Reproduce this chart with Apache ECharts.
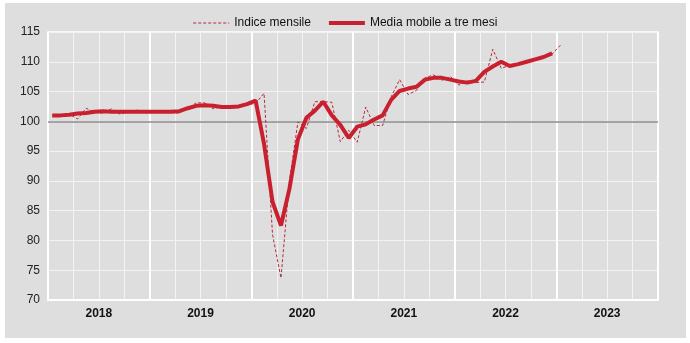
<!DOCTYPE html>
<html>
<head>
<meta charset="utf-8">
<script src="https://cdn.jsdelivr.net/npm/echarts@6/dist/echarts.min.js"></script>
<style>
  html, body { margin: 0; padding: 0; background: #ffffff; }
  #bg { position: absolute; left: 5px; top: 3px; width: 681px; height: 335px; background: #dedede; }
  #chart { position: absolute; left: 0; top: 0; width: 690px; height: 343px; }
</style>
</head>
<body>
<div id="bg"></div>
<div id="chart"></div>
<script>
// ---- data ----
const years = ['2018', '2019', '2020', '2021', '2022', '2023'];
const monthNames = ['01','02','03','04','05','06','07','08','09','10','11','12'];
const yTicks = { min: 70, max: 115, step: 5 };
const refLine = 100;

// Indice mensile, Jan 2018 - Jan 2023
const indiceMensile = [
  101.0, 101.0, 101.2, 100.4, 102.2, 101.5, 101.4, 102.1, 101.2, 101.6, 101.9, 101.4,
  101.6, 101.7, 101.5, 101.4, 102.2, 103.1, 103.1, 102.1, 102.5, 102.4, 102.3, 102.8,
  103.0, 104.7, 81.0, 73.7, 90.0, 99.9, 98.8, 103.3, 103.3, 103.2, 96.6, 98.5,
  96.5, 102.4, 99.3, 99.3, 104.1, 107.0, 104.5, 105.2, 107.3, 107.8, 106.9, 107.5,
  106.1, 106.8, 106.5, 106.6, 112.1, 108.9, 109.4, 109.6, 110.0, 110.5, 110.8, 111.3,
  112.8
];

// Media mobile a tre mesi, Jan 2018 - Dec 2022
const mediaMobile = [
  101.0, 101.0, 101.1, 101.3, 101.4, 101.6, 101.7, 101.6, 101.6, 101.6, 101.6, 101.6,
  101.6, 101.6, 101.6, 101.7, 102.2, 102.6, 102.7, 102.6, 102.4, 102.4, 102.5, 102.9,
  103.5, 96.2, 86.5, 82.5, 88.7, 97.0, 100.6, 101.8, 103.3, 101.0, 99.4, 97.2,
  99.1, 99.5, 100.3, 101.0, 103.6, 105.1, 105.5, 105.8, 107.0, 107.3, 107.3, 107.0,
  106.7, 106.5, 106.8, 108.3, 109.2, 110.0, 109.3, 109.6, 110.0, 110.4, 110.8, 111.4
];

const months = [];
years.forEach(y => monthNames.forEach(m => months.push(y + '-' + m)));

const FONT = "'Liberation Sans Narrow', 'Arial Narrow', 'Liberation Sans', Arial, sans-serif";

const chart = echarts.init(document.getElementById('chart'), null, { renderer: 'canvas' });
chart.setOption({
  backgroundColor: 'transparent',
  animation: false,
  textStyle: { fontFamily: FONT },
  legend: {
    top: 12,
    left: 'center',
    itemWidth: 36,
    itemHeight: 12,
    itemGap: 16,
    textStyle: { fontFamily: FONT, fontSize: 12, color: '#111' },
    data: [
      { name: 'Indice mensile', itemStyle: { opacity: 0 }, lineStyle: { width: 1, type: [3, 2], color: '#b42a3c' } },
      { name: 'Media mobile a tre mesi', itemStyle: { opacity: 0 }, lineStyle: { width: 4, color: '#c8202f' } }
    ]
  },
  grid: {
    left: 48, right: 32, top: 32, bottom: 43,
    show: true, borderColor: '#ffffff', borderWidth: 1.5, backgroundColor: 'transparent'
  },
  xAxis: [
    {
      type: 'category', position: 'bottom', data: months, boundaryGap: true,
      axisLabel: { show: false }, axisTick: { show: false }, axisLine: { show: false },
      splitLine: { show: true, interval: 2, lineStyle: { color: '#f3f3f3', width: 1 } }
    },
    {
      type: 'category', position: 'bottom', data: years, boundaryGap: true,
      axisLabel: { show: true, fontFamily: FONT, fontSize: 12, fontWeight: 'bold', color: '#111', margin: 8 },
      axisTick: { show: false },
      axisLine: { show: true, lineStyle: { color: '#ffffff', width: 2 } },
      splitLine: { show: true, lineStyle: { color: '#ffffff', width: 2 } }
    }
  ],
  yAxis: {
    type: 'value', min: yTicks.min, max: yTicks.max, interval: yTicks.step,
    axisLabel: { fontFamily: FONT, fontSize: 12, color: '#222', margin: 8 },
    axisLine: { show: false }, axisTick: { show: false },
    splitLine: { show: true, lineStyle: { color: '#f3f3f3', width: 1 } }
  },
  series: [
    {
      name: 'Indice mensile', type: 'line', xAxisIndex: 0, data: indiceMensile,
      symbol: 'none', z: 3,
      itemStyle: { color: '#b42a3c' },
      lineStyle: { type: [3, 2], width: 1, color: '#b42a3c' },
      markLine: {
        silent: true, symbol: ['none', 'none'], z: 1,
        label: { show: false },
        lineStyle: { color: '#8c8c8c', width: 1.5, type: 'solid' },
        data: [{ yAxis: refLine }]
      }
    },
    {
      name: 'Media mobile a tre mesi', type: 'line', xAxisIndex: 0, data: mediaMobile,
      symbol: 'none', z: 4,
      itemStyle: { color: '#c8202f' },
      lineStyle: { width: 4, color: '#c8202f' }
    }
  ]
});
</script>
</body>
</html>
